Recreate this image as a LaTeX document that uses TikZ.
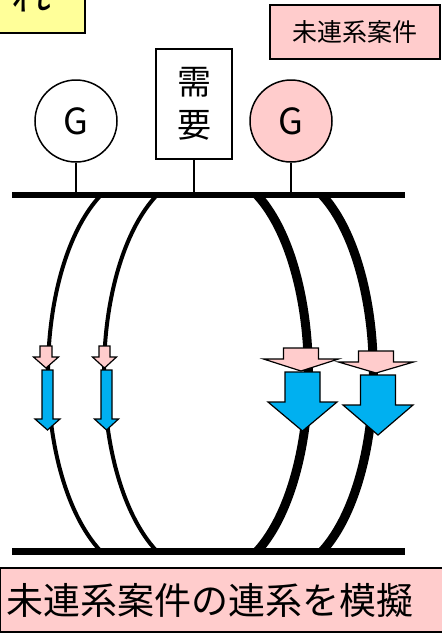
\documentclass[tikz,border=0pt]{standalone}
\usepackage{fontspec}
\setmainfont{Noto Sans CJK JP}
\usepackage{tikz}
\usetikzlibrary{positioning}
\definecolor{pinkfill}{HTML}{FFCCCC}
\definecolor{yellowfill}{HTML}{FFFF99}
\definecolor{flowblue}{HTML}{00B0F0}
% block arrow pointing down: centre x, top, neck, tip, shaft half width, head half width, fill
\newcommand{\blockarrow}[7]{%
  \draw[line width=1.2pt,line join=miter,fill=#7] ({#1-#5},#2) -- ({#1+#5},#2) -- ({#1+#5},#3) -- ({#1+#6},#3)
    -- (#1,#4) -- ({#1-#6},#3) -- ({#1-#5},#3) -- cycle;}

\begin{document}
\begin{tikzpicture}[x=1pt,y=-1pt,
  gen/.style={draw,circle,line width=1.5pt,minimum size=82pt,inner sep=0pt,font=\fontsize{36}{36}\selectfont},
  box/.style={draw,line width=1.5pt,inner sep=0pt},
  stem/.style={line width=1.5pt},
  bus/.style={line width=6.5pt},
  thinline/.style={line width=4pt},
  thickline/.style={line width=9pt}]
\useasboundingbox (0,0) rectangle (442,635);
\clip (0,0) rectangle (442,635);

\node[box,line width=2pt,fill=yellowfill,minimum width=108pt,minimum height=76pt,font=\fontsize{40}{40}\selectfont] (flow) at (31,-5) {れ};
\node[box,fill=pinkfill,minimum width=170pt,minimum height=54pt,font=\fontsize{25}{25}\selectfont] (unlinked) at (355,32) {未連系案件};

\node[gen] (g1) at (76,121) {G};
\node[gen,fill=pinkfill] (g2) at (291,121) {G};
\node[box,minimum width=76pt,minimum height=110pt,align=center,font=\fontsize{34}{43}\selectfont] (load) at (194,104) {需\\要};

\coordinate (busL) at (12,195);
\coordinate (busR) at (405,195);
\coordinate (baseL) at (12,551.5);
\coordinate (baseR) at (405,551.5);
\draw[bus] (busL) -- (busR);
\draw[bus] (baseL) -- (baseR);
\draw[stem] (g1) -- (g1 |- busL);
\draw[stem] (load) -- (load |- busL);
\draw[stem] (g2) -- (g2 |- busL);

% lines between the two buses
\coordinate (l1) at (101,195);
\coordinate (l2) at (157,195);
\coordinate (l3) at (257,195);
\coordinate (l4) at (322,195);
\draw[thinline] (l1) arc[start angle=243,end angle=117,x radius=97,y radius=200];
\draw[thinline] (l2) arc[start angle=243,end angle=117,x radius=97,y radius=200];
\draw[thickline] (l3) arc[start angle=-63,end angle=63,x radius=94,y radius=200];
\draw[thickline] (l4) arc[start angle=-63,end angle=63,x radius=94,y radius=200];

\blockarrow{46}{346}{357}{368}{6}{12.5}{pinkfill}
\blockarrow{47.5}{370}{419}{430}{5.5}{12.5}{flowblue}
\blockarrow{104.5}{346}{357}{368}{5.5}{12}{pinkfill}
\blockarrow{106.5}{370}{419}{430}{5.5}{12}{flowblue}
\blockarrow{301}{348}{359}{371}{17.5}{37.5}{pinkfill}
\blockarrow{302.5}{372}{402}{431}{17.5}{34.5}{flowblue}
\blockarrow{376}{351}{362}{373}{17.5}{37.5}{pinkfill}
\blockarrow{378}{375}{405}{435}{17.5}{35}{flowblue}

\node[box,fill=pinkfill,anchor=west,minimum height=64pt,text width=430pt,inner xsep=7pt,align=left,font=\fontsize{37}{37}\selectfont] (caption) at (-1,600) {未連系案件の連系を模擬};
\end{tikzpicture}
\end{document}
